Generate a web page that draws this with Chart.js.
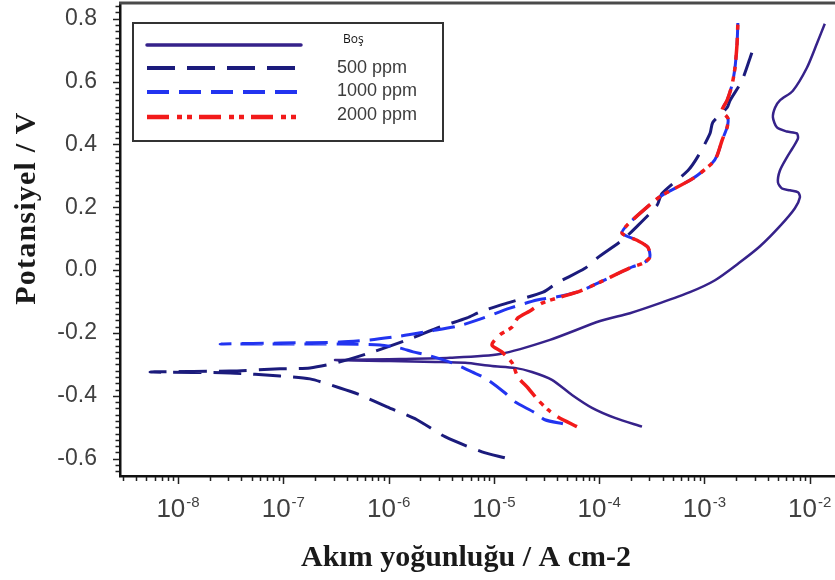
<!DOCTYPE html>
<html lang="tr">
<head>
  <meta charset="UTF-8" />
  <title>Tafel eğrileri</title>
  <script src="https://cdn.jsdelivr.net/npm/chart.js"></script>
  <style>
    html, body { margin: 0; padding: 0; background: #fff; }
    #tafel { display: block; }
  </style>
</head>
<body>
  <canvas id="tafel" width="835" height="580"></canvas>

  <script>
    // Polarisation curves: potential (V) and current density (A cm-2),
    // each curve runs cathodic end -> corrosion potential -> anodic end
    const bosE = [-0.498, -0.470, -0.438, -0.397, -0.349, -0.324, -0.311, -0.305, -0.295, -0.292, -0.289, -0.286,
      -0.283, -0.279, -0.267, -0.222, -0.162, -0.137, -0.105, -0.070, -0.032, 0.025, 0.076, 0.140, 0.197, 0.232,
      0.248, 0.254, 0.260, 0.279, 0.317, 0.359, 0.390, 0.419, 0.435, 0.441, 0.454, 0.486, 0.517, 0.540, 0.571,
      0.644, 0.721, 0.784];
    const bosI = [2.55e-4, 1.41e-4, 8.55e-5, 5.52e-5, 3.56e-5, 2.30e-5, 1.58e-5, 9.59e-6, 5.32e-6, 2.76e-6, 1.03e-6, 3.10e-7,
      1.28e-6, 3.83e-6, 1.14e-5, 3.41e-5, 1.02e-4, 1.96e-4, 3.78e-4, 7.28e-4, 1.26e-3, 2.17e-3, 3.37e-3, 5.21e-3, 7.23e-3, 8.07e-3,
      7.73e-3, 6.49e-3, 5.45e-3, 4.99e-3, 5.21e-3, 6.07e-3, 6.92e-3, 7.73e-3, 7.55e-3, 6.07e-3, 4.88e-3, 4.47e-3, 4.68e-3, 5.21e-3, 6.92e-3,
      9.40e-3, 1.17e-2, 1.39e-2];

    const ppm500E = [-0.597, -0.578, -0.530, -0.476, -0.435, -0.397, -0.375, -0.346, -0.337, -0.327, -0.324, -0.321,
      -0.314, -0.311, -0.292, -0.260, -0.222, -0.181, -0.152, -0.133, -0.105, -0.070, -0.041, 0.006, 0.038, 0.095,
      0.133, 0.206, 0.244, 0.317, 0.362, 0.435, 0.470, 0.517, 0.540, 0.603, 0.692];
    const ppm500I = [1.27e-5, 7.71e-6, 3.43e-6, 1.86e-6, 9.66e-7, 5.35e-7, 3.45e-7, 1.79e-7, 9.31e-8, 3.12e-8, 5.42e-9, 3.12e-8,
      9.31e-8, 1.79e-7, 3.45e-7, 7.11e-7, 1.50e-6, 3.08e-6, 5.56e-6, 7.38e-6, 1.33e-5, 2.93e-5, 3.97e-5, 7.33e-5, 9.53e-5, 1.65e-4,
      2.19e-4, 3.54e-4, 3.95e-4, 6.97e-4, 8.67e-4, 1.13e-3, 1.20e-3, 1.64e-3, 1.75e-3, 2.27e-3, 2.82e-3];

    const ppm1000E = [-0.489, -0.476, -0.454, -0.419, -0.390, -0.343, -0.324, -0.295, -0.270, -0.260, -0.248, -0.238,
      -0.235, -0.235, -0.235, -0.232, -0.229, -0.222, -0.210, -0.194, -0.178, -0.156, -0.121, -0.095, -0.083,
      -0.067, -0.038, 0.010, 0.022, 0.041, 0.073, 0.095, 0.117, 0.143, 0.222, 0.238, 0.292, 0.340, 0.365, 0.413,
      0.454, 0.483, 0.508, 0.540, 0.587, 0.644, 0.721, 0.794];
    const ppm1000I = [4.53e-5, 3.05e-5, 2.46e-5, 1.58e-5, 1.27e-5, 8.23e-6, 6.19e-6, 4.00e-6, 2.32e-6, 1.71e-6, 1.28e-6, 8.28e-7,
      3.45e-7, 9.31e-8, 2.51e-8, 9.31e-8, 3.45e-7, 6.65e-7, 1.28e-6, 2.47e-6, 4.56e-6, 7.38e-6, 1.42e-5, 2.57e-5, 4.25e-5,
      6.58e-5, 1.02e-4, 2.05e-4, 2.61e-4, 3.03e-4, 2.90e-4, 2.29e-4, 1.65e-4, 1.84e-4, 3.39e-4, 3.95e-4, 7.78e-4, 1.18e-3, 1.32e-3, 1.47e-3,
      1.64e-3, 1.67e-3, 1.47e-3, 1.64e-3, 1.82e-3, 1.95e-3, 2.04e-3, 2.08e-3];

    const ppm2000E = [-0.498, -0.467, -0.444, -0.413, -0.375, -0.340, -0.295, -0.260, -0.238, -0.206, -0.181, -0.152,
      -0.130, -0.105, -0.086, -0.067, -0.038, 0.010, 0.022, 0.041, 0.073, 0.095, 0.117, 0.143, 0.222, 0.238, 0.292,
      0.340, 0.365, 0.413, 0.454, 0.483, 0.508, 0.540, 0.587, 0.644, 0.721, 0.794];
    const ppm2000I = [6.15e-5, 4.06e-5, 3.27e-5, 2.62e-5, 2.11e-5, 1.69e-5, 1.49e-5, 1.19e-5, 9.59e-6, 1.14e-5, 1.49e-5, 1.69e-5,
      2.20e-5, 2.86e-5, 4.25e-5, 6.58e-5, 1.02e-4, 2.05e-4, 2.61e-4, 3.03e-4, 2.90e-4, 2.29e-4, 1.65e-4, 1.84e-4, 3.39e-4, 3.95e-4, 7.78e-4,
      1.18e-3, 1.32e-3, 1.47e-3, 1.64e-3, 1.67e-3, 1.47e-3, 1.64e-3, 1.82e-3, 1.95e-3, 2.04e-3, 2.08e-3];

    const seriesLabels = ['Boş', '500 ppm', '1000 ppm', '2000 ppm'];
    const yTicks = [-0.6, -0.4, -0.2, 0.0, 0.2, 0.4, 0.6, 0.8];
    const xTickExps = [-8, -7, -6, -5, -4, -3, -2];

    const SANS = '"Liberation Sans", Arial, sans-serif';
    const SERIF = '"Liberation Serif", "Times New Roman", serif';

    function pts(I, E) { return I.map((v, i) => ({ x: v, y: E[i] })); }

    // axis frame, minor/major tick marks, 10^n labels, titles and the boxed legend
    const decor = {
      id: 'decor',
      afterDraw(chart) {
        const { ctx, chartArea: a, scales: { x, y } } = chart;
        ctx.save();

        ctx.strokeStyle = '#4a4a4a'; ctx.lineWidth = 3;
        ctx.beginPath(); ctx.moveTo(a.left - 1, a.top); ctx.lineTo(a.right + 2, a.top); ctx.stroke();

        ctx.strokeStyle = '#222'; ctx.lineWidth = 1.5;
        ctx.beginPath();
        for (let k = Math.ceil(y.min / 0.02 - 1e-6); k <= Math.floor(y.max / 0.02 + 1e-6); k++) {
          const py = Math.round(y.getPixelForValue(k * 0.02)) + 0.5;
          const len = k % 10 === 0 ? 6 : 3.5;
          ctx.moveTo(a.left - 1, py); ctx.lineTo(a.left - 1 - len, py);
        }
        for (let e = -9; e <= -2; e++) {
          for (let m = 1; m <= 9; m++) {
            const v = m * Math.pow(10, e);
            if (v < x.min || v > x.max) continue;
            const px = Math.round(x.getPixelForValue(v)) + 0.5;
            const len = m === 1 ? 7 : 4;
            ctx.moveTo(px, a.bottom + 1); ctx.lineTo(px, a.bottom + 1 + len);
          }
        }
        ctx.stroke();

        // decade labels with raised exponent
        ctx.fillStyle = '#404040';
        ctx.textAlign = 'left';
        ctx.textBaseline = 'alphabetic';
        xTickExps.forEach(e => {
          const px = x.getPixelForValue(Math.pow(10, e));
          const sup = String(e);
          ctx.font = '26px ' + SANS;
          const wBase = ctx.measureText('10').width;
          ctx.font = '15px ' + SANS;
          const wSup = ctx.measureText(sup).width;
          const x0 = px - (wBase + wSup + 1) / 2;
          ctx.font = '26px ' + SANS;
          ctx.fillText('10', x0, 517);
          ctx.font = '15px ' + SANS;
          ctx.fillText(sup, x0 + wBase + 1, 507);
        });

        // axis titles
        ctx.fillStyle = '#1a1a1a';
        ctx.font = 'bold 30px ' + SERIF;
        ctx.textAlign = 'center';
        ctx.fillText('Akım yoğunluğu / A cm-2', 466, 566);
        ctx.save();
        ctx.translate(35, 208);
        ctx.rotate(-Math.PI / 2);
        ctx.letterSpacing = '1.2px';
        ctx.fillText('Potansiyel / V', 0, 0);
        ctx.restore();

        // legend box
        ctx.fillStyle = '#fff';
        ctx.fillRect(133, 23, 310, 118);
        ctx.strokeStyle = '#333'; ctx.lineWidth = 2;
        ctx.strokeRect(133, 23, 310, 118);
        const lineY = [45, 68, 92, 117];
        const textY = [40, 68, 91, 115];
        chart.data.datasets.forEach((ds, i) => {
          ctx.save();
          ctx.strokeStyle = ds.borderColor;
          ctx.lineWidth = ds.borderWidth + 1;
          ctx.setLineDash(ds.borderDash || []);
          ctx.lineCap = i === 0 ? 'round' : 'butt';
          ctx.beginPath(); ctx.moveTo(147, lineY[i]); ctx.lineTo(i === 0 ? 301 : 297, lineY[i]); ctx.stroke();
          ctx.restore();
          ctx.textAlign = 'left';
          ctx.textBaseline = 'middle';
          if (i === 0) {
            ctx.fillStyle = '#111';
            ctx.font = '12px "Open Sans", sans-serif';
            ctx.fillText(ds.label, 343, textY[i]);
          } else {
            ctx.fillStyle = '#3c3c3c';
            ctx.font = '18px ' + SANS;
            ctx.fillText(ds.label, 337, textY[i]);
          }
        });
        ctx.restore();
      }
    };

    new Chart(document.getElementById('tafel'), {
      type: 'line',
      data: {
        datasets: [
          { label: seriesLabels[0], data: pts(bosI, bosE), borderColor: '#36228a', borderWidth: 2.5, borderDash: [], order: 3 },
          { label: seriesLabels[1], data: pts(ppm500I, ppm500E), borderColor: '#1b1b7c', borderWidth: 3, borderDash: [28, 12], order: 2 },
          { label: seriesLabels[2], data: pts(ppm1000I, ppm1000E), borderColor: '#2234f0', borderWidth: 3, borderDash: [22, 10], order: 1 },
          { label: seriesLabels[3], data: pts(ppm2000I, ppm2000E), borderColor: '#f21a1a', borderWidth: 3.5, borderDash: [22, 8, 5, 5, 5, 7], order: 0 }
        ]
      },
      options: {
        responsive: false,
        animation: false,
        devicePixelRatio: 1,
        layout: { padding: { top: 3, right: 1, left: 0, bottom: 0 } },
        elements: { point: { radius: 0 }, line: { tension: 0.25, fill: false } },
        plugins: { legend: { display: false }, tooltip: { enabled: false } },
        scales: {
          x: {
            type: 'logarithmic',
            min: 2.81e-9,
            max: 1.7e-2,
            grid: { display: false, drawTicks: false },
            border: { display: true, color: '#111', width: 2.5 },
            ticks: { display: false },
            afterFit: s => { s.height = 104; }
          },
          y: {
            type: 'linear',
            min: -0.655,
            max: 0.85,
            grid: { display: false, drawTicks: false },
            border: { display: true, color: '#111', width: 2.5 },
            afterBuildTicks: s => { s.ticks = yTicks.map(v => ({ value: v })); },
            ticks: {
              padding: 23,
              color: '#404040',
              font: { family: SANS, size: 23 },
              callback: v => Number(v).toFixed(1)
            },
            afterFit: s => { s.width = 120; s.paddingTop = 0; s.paddingBottom = 0; }
          }
        }
      },
      plugins: [decor]
    });
  </script>
</body>
</html>
